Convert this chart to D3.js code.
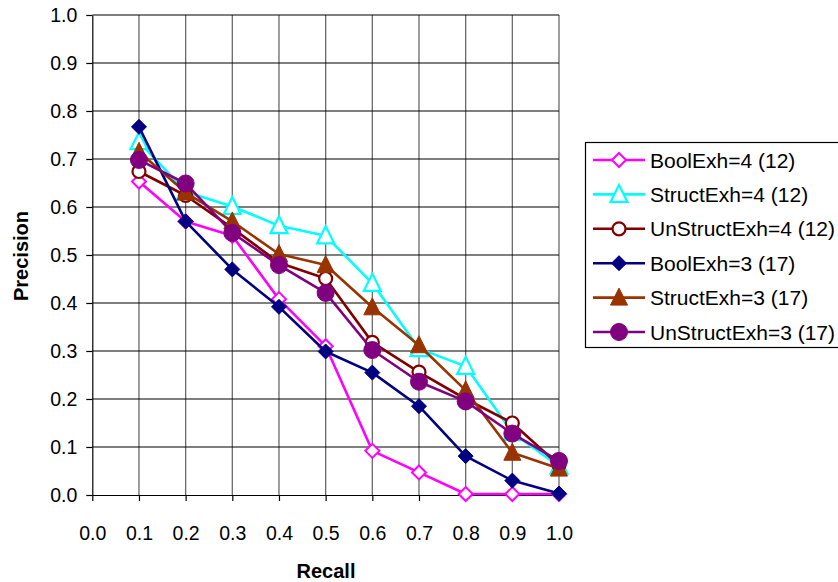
<!DOCTYPE html>
<html>
<head>
<meta charset="utf-8">
<script src="https://cdn.jsdelivr.net/npm/d3@7"></script>
<style>
  html, body { margin: 0; padding: 0; background: #fff; }
  svg { display: block; font-family: "Liberation Sans", Arial, sans-serif; }
</style>
</head>
<body>
<svg id="chart" width="838" height="582"></svg>
<script>
// ---- data ----
const recall = [0.1, 0.2, 0.3, 0.4, 0.5, 0.6, 0.7, 0.8, 0.9, 1.0];
const xTicks = [0.0, 0.1, 0.2, 0.3, 0.4, 0.5, 0.6, 0.7, 0.8, 0.9, 1.0];
const yTicks = [0.0, 0.1, 0.2, 0.3, 0.4, 0.5, 0.6, 0.7, 0.8, 0.9, 1.0];

const seriesNames = ["BoolExh=4 (12)", "StructExh=4 (12)", "UnStructExh=4 (12)",
                     "BoolExh=3 (17)", "StructExh=3 (17)", "UnStructExh=3 (17)"];
const boolExh4     = [0.653, 0.570, 0.540, 0.408, 0.310, 0.092, 0.047, 0.002, 0.002, 0.002];
const structExh4   = [0.736, 0.632, 0.601, 0.561, 0.540, 0.441, 0.305, 0.268, 0.130, 0.060];
const unstructExh4 = [0.674, 0.624, 0.556, 0.484, 0.451, 0.318, 0.256, 0.200, 0.150, 0.062];
const boolExh3     = [0.767, 0.570, 0.470, 0.392, 0.299, 0.255, 0.185, 0.081, 0.030, 0.003];
const structExh3   = [0.715, 0.630, 0.570, 0.502, 0.479, 0.391, 0.312, 0.218, 0.088, 0.055];
const unstructExh3 = [0.698, 0.649, 0.546, 0.479, 0.421, 0.302, 0.236, 0.195, 0.128, 0.071];

const seriesValues = [boolExh4, structExh4, unstructExh4, boolExh3, structExh3, unstructExh3];
const colors  = ["#FF00FF", "#00FFFF", "#800000", "#000080", "#993300", "#800080"];
const shapes  = ["diamond", "triangle", "circle", "diamond", "triangle", "circle"];
const filled  = [false, false, false, true, true, true];

// ---- layout ----
const svg = d3.select("#chart");
const X0 = 92.3, X1 = 559, Y0 = 495, Y1 = 15;
const x = d3.scaleLinear().domain([0, 1]).range([X0, X1]);
const y = d3.scaleLinear().domain([0, 1]).range([Y0, Y1]);

// gridlines
svg.append("g").selectAll("line").data(xTicks.slice(1)).join("line")
  .attr("x1", d => x(d)).attr("x2", d => x(d))
  .attr("y1", Y1).attr("y2", Y0)
  .attr("stroke", "#6a6a6a").attr("stroke-width", 1.3);
svg.append("g").selectAll("line").data(yTicks.slice(1)).join("line")
  .attr("x1", X0).attr("x2", X1)
  .attr("y1", d => y(d)).attr("y2", d => y(d))
  .attr("stroke", "#000").attr("stroke-width", 1.2);

// axes
const fmt = d3.format(".1f");
const xAxis = svg.append("g").attr("transform", `translate(0,${Y0})`)
  .call(d3.axisBottom(x).tickValues(xTicks).tickFormat(fmt).tickSize(6).tickPadding(25).tickSizeOuter(0));
const yAxis = svg.append("g").attr("transform", `translate(${X0},0)`)
  .call(d3.axisLeft(y).tickValues(yTicks).tickFormat(fmt).tickSize(6).tickPadding(9).tickSizeOuter(0));
[xAxis, yAxis].forEach(a => {
  a.select(".domain").attr("stroke", "#000").attr("stroke-width", 1.2);
  a.selectAll(".tick line").attr("stroke", "#000").attr("stroke-width", 1.2);
  a.selectAll(".tick text").attr("fill", "#000")
    .style("font-size", "19.5px").style("font-family", "'Liberation Sans', Arial, sans-serif");
});

// axis titles
svg.append("text").attr("x", 326).attr("y", 578).attr("text-anchor", "middle")
  .style("font-size", "20px").style("font-weight", "bold").text("Recall");
svg.append("text").attr("transform", "translate(28,256) rotate(-90)").attr("text-anchor", "middle")
  .style("font-size", "20px").style("font-weight", "bold").text("Precision");

// marker drawing
function marker(g, shape, color, fill, cx, cy) {
  const f = fill ? color : "#fff";
  if (shape === "diamond") {
    const r = fill ? 7.5 : 7;
    g.append("path").attr("d", `M${cx},${cy - r}L${cx + r},${cy}L${cx},${cy + r}L${cx - r},${cy}Z`)
      .attr("fill", f).attr("stroke", color).attr("stroke-width", fill ? 1 : 2);
  } else if (shape === "triangle") {
    const s = 8.5;
    g.append("path").attr("d", `M${cx},${cy - s - 1}L${cx + s},${cy + s - 1}L${cx - s},${cy + s - 1}Z`)
      .attr("fill", f).attr("stroke", color).attr("stroke-width", fill ? 1 : 2.2);
  } else {
    g.append("circle").attr("cx", cx).attr("cy", cy).attr("r", fill ? 8.5 : 6.5)
      .attr("fill", f).attr("stroke", color).attr("stroke-width", fill ? 1 : 2.2);
  }
}

const line = d3.line().x(d => x(d[0])).y(d => y(d[1]));
seriesValues.forEach((vals, i) => {
  const g = svg.append("g");
  const pts = recall.map((r, j) => [r, vals[j]]);
  g.append("path").datum(pts).attr("d", line)
    .attr("fill", "none").attr("stroke", colors[i]).attr("stroke-width", 2.6)
    .attr("stroke-linejoin", "round");
  pts.forEach(p => marker(g, shapes[i], colors[i], filled[i], x(p[0]), y(p[1])));
});

// legend
const lg = svg.append("g");
lg.append("rect").attr("x", 585.5).attr("y", 142.5).attr("width", 270).attr("height", 205)
  .attr("fill", "#fff").attr("stroke", "#000").attr("stroke-width", 1.2);
const rowY = d3.scaleLinear().domain([0, 5]).range([160, 332]);
seriesNames.forEach((name, i) => {
  const yy = rowY(i);
  lg.append("line").attr("x1", 593).attr("x2", 645).attr("y1", yy).attr("y2", yy)
    .attr("stroke", colors[i]).attr("stroke-width", 2.6);
  marker(lg, shapes[i], colors[i], filled[i], 619, yy);
  lg.append("text").attr("x", 650).attr("y", yy + 7.5).style("font-size", "21px").text(name);
});
</script>
</body>
</html>
